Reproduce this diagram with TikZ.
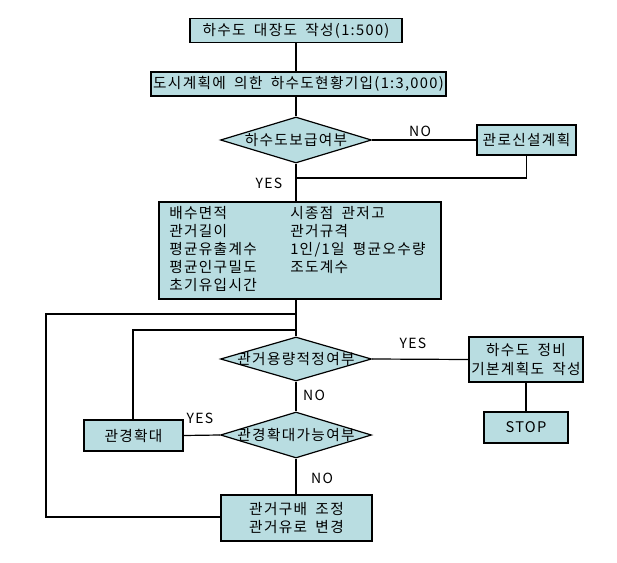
\documentclass[tikz,border=0pt]{standalone}
\usepackage{fontspec}
\setmainfont[LetterSpace=9,WordSpace=1.8]{Noto Sans CJK KR}
\usetikzlibrary{shapes.geometric}
\definecolor{boxfill}{RGB}{185,221,225}
\tikzset{
  box/.style={draw=black, fill=boxfill, line width=0.9pt, inner sep=0pt, align=center,
    font=\fontsize{11}{14}\selectfont},
  dia/.style={draw=black, fill=boxfill, line width=0.9pt, diamond, inner sep=0pt,
    minimum width=113.25pt, minimum height=34.5pt},
  diatext/.style={inner sep=0pt, font=\fontsize{11}{14}\selectfont},
  lbl/.style={inner sep=0pt, font=\fontsize{10.5}{13}\selectfont},
  conn/.style={draw=black, line width=0.9pt},
}
\begin{document}
\begin{tikzpicture}[x=0.75pt,y=-0.75pt]
\useasboundingbox[fill=white] (0,0) rectangle (617,563);
% boxes
\node[box, minimum width=159pt, minimum height=18pt] (b1) at (296,30.5) {하수도 대장도 작성(1:500)};
\node[box, minimum width=221.25pt, minimum height=18pt] (b2) at (298.5,84) {도시계획에 의한 하수도현황기입(1:3,000)};
\node[dia] (d1) at (296,140) {};
\node[diatext] (t1) at (d1) {하수도보급여부};
\node[box, minimum width=74.25pt, minimum height=22.5pt] (b3) at (526.5,140) {관로신설계획};
\node[box, minimum width=211.5pt, minimum height=72.75pt] (b4) at (300,250.5) {};
\node[anchor=north west, inner sep=0pt, font=\fontsize{11}{13.5}\selectfont] (t4) at (169,206)
  {\begin{tabular}{@{}p{90.75pt}@{}l@{}}
   배수면적 & 시종점 관저고\\
   관거길이 & 관거규격\\
   평균유출계수 & 1인/1일 평균오수량\\
   평균인구밀도 & 조도계수\\
   초기유입시간 & \\
   \end{tabular}};
\node[dia, minimum height=33pt] (d2) at (296,359) {};
\node[diatext] (t2) at (d2) {관거용량적정여부};
\node[box, minimum width=85.5pt, minimum height=33.75pt] (b5) at (526,359.5) {하수도 정비\\기본계획도 작성};
\node[box, minimum width=63pt, minimum height=23.25pt] (b6) at (526,427.5) {STOP};
\node[dia] (d3) at (296,435) {};
\node[diatext] (t3) at (d3) {관경확대가능여부};
\node[box, minimum width=74.25pt, minimum height=23.25pt] (b7) at (133.5,435.5) {관경확대};
\node[box, minimum width=113.25pt, minimum height=34.5pt] (b8) at (296.5,518) {관거구배 조정\\관거유로 변경};
% junction coordinates
\coordinate (j1) at (296,178);
\coordinate (j2) at (296,314);
\coordinate (j3) at (296,330);
\coordinate (c1) at (46,517);
\coordinate (c2) at (46,314);
% connectors
\draw[conn] (b1.south -| j1) -- (b2.north -| j1);
\draw[conn] (b2.south -| j1) -- (d1.north);
\draw[conn] (d1.east) -- (b3.west);
\draw[conn] (b3.south) -- (b3.south |- j1) -- (j1);
\draw[conn] (d1.south) -- (b4.north -| j1);
\draw[conn] (b4.south -| j1) -- (d2.north);
\draw[conn] (b8.west |- c1) -- (c1) -- (c2) -- (j2);
\draw[conn] (b7.north -| 133,0) -- (133,330) -- (j3);
\draw[conn] (d2.east) -- (b5.west);
\draw[conn] (b5.south) -- (b6.north);
\draw[conn] (d2.south) -- (d3.north);
\draw[conn] (d3.west) -- (b7.east);
\draw[conn] (d3.south) -- (b8.north -| d3.south);
% labels
\node[lbl] (n1) at (420,131) {NO};
\node[lbl] (y1) at (269,183) {YES};
\node[lbl] (y2) at (413,343) {YES};
\node[lbl] (n2) at (314,395) {NO};
\node[lbl] (y3) at (200,418) {YES};
\node[lbl] (n3) at (322,478) {NO};
\end{tikzpicture}
\end{document}
